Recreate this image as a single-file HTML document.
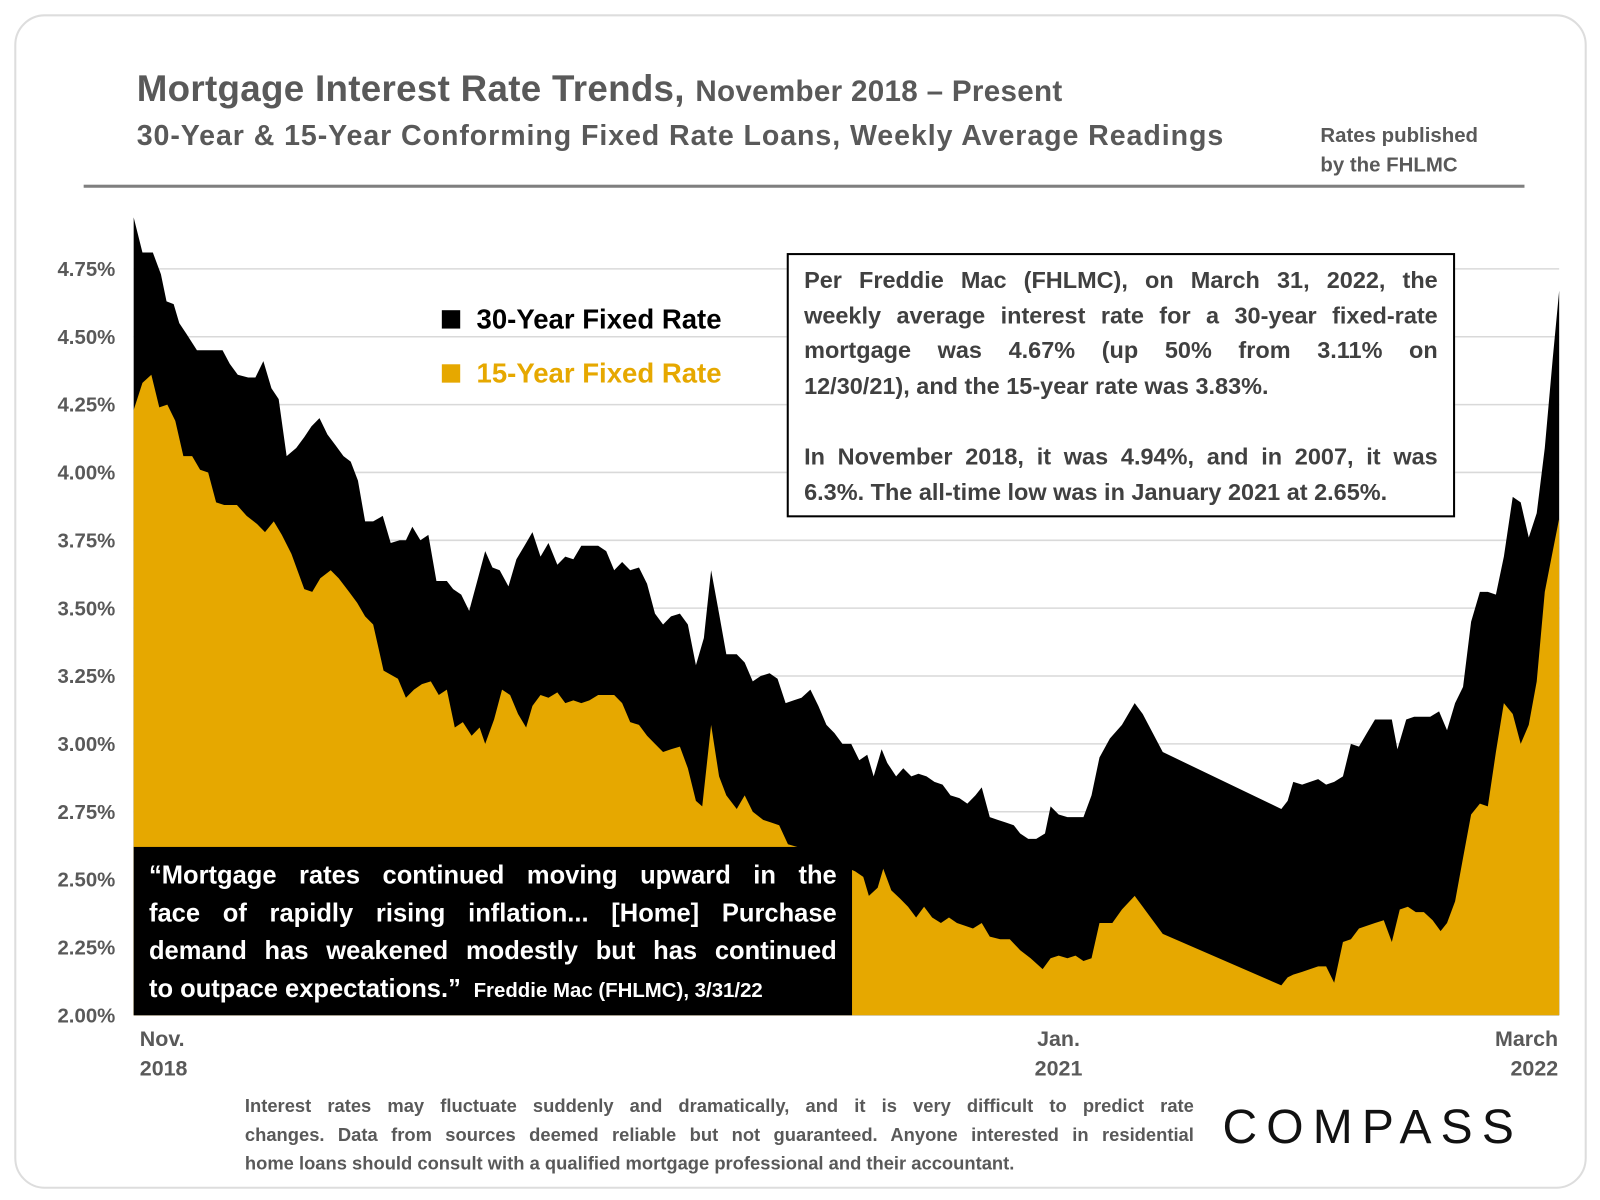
<!DOCTYPE html>
<html><head><meta charset="utf-8">
<style>
html,body{margin:0;padding:0;background:#fff;}
body{width:1600px;height:1200px;overflow:hidden;font-family:"Liberation Sans",sans-serif;}
#frame{position:absolute;left:0;top:0;width:1568px;height:1176px;transform:scale(1.0204);transform-origin:0 0;}
.abs{position:absolute;}
.j{display:block;text-align:justify;text-align-last:justify;white-space:nowrap;}
.l{display:block;text-align:left;white-space:nowrap;}
</style></head>
<body>
<div id="frame">
<div class="abs" style="left:14px;top:14px;width:1537px;height:1147px;border:2px solid #ddd;border-radius:30px;"></div>
<div class="abs" style="left:134px;top:66px;font-size:36px;font-weight:bold;color:#595959;white-space:nowrap;letter-spacing:0.3px;">Mortgage Interest Rate Trends, <span style="font-size:29px">November 2018 – Present</span></div>
<div class="abs" style="left:134px;top:117px;font-size:28px;font-weight:bold;color:#595959;white-space:nowrap;letter-spacing:0.9px;">30-Year &amp; 15-Year Conforming Fixed Rate Loans, Weekly Average Readings</div>
<div class="abs" style="left:1294px;top:119px;font-size:20px;font-weight:bold;color:#595959;line-height:29px;">Rates published<br>by the FHLMC</div>
<div class="abs" style="left:82px;top:181px;width:1412px;height:3px;background:#7f7f7f;"></div>

<svg class="abs" style="left:0;top:0" width="1568" height="1176">
<g id="grid"></g><g id="areas"></g><g id="yticks"></g>
</svg>

<div class="abs" style="left:433px;top:287px;font-size:27px;font-weight:bold;line-height:53px;">
<div><span style="display:inline-block;width:18px;height:18px;background:#000;margin-right:16px;"></span>30-Year Fixed Rate</div>
<div style="color:#E6A800"><span style="display:inline-block;width:18px;height:18px;background:#E6A800;margin-right:16px;"></span>15-Year Fixed Rate</div>
</div>

<div class="abs" style="left:771px;top:248px;width:621px;height:241px;border:2px solid #000;background:#fff;padding:7px 15px 7px 15px;font-size:23px;font-weight:bold;color:#404040;line-height:34.6px;">
<span class="j">Per Freddie Mac (FHLMC), on March 31, 2022, the</span>
<span class="j">weekly average interest rate for a 30-year fixed-rate</span>
<span class="j">mortgage was 4.67% (up 50% from 3.11% on</span>
<span class="l">12/30/21), and the 15-year rate was 3.83%.</span>
<span class="l">&nbsp;</span>
<span class="j">In November 2018, it was 4.94%, and in 2007, it was</span>
<span class="l">6.3%. The all-time low was in January 2021 at 2.65%.</span>
</div>

<div class="abs" style="left:131px;top:830px;width:674px;height:148px;background:#000;color:#fff;padding:10px 15px 7px 15px;font-size:25px;font-weight:bold;line-height:37px;">
<span class="j">“Mortgage rates continued moving upward in the</span>
<span class="j">face of rapidly rising inflation... [Home] Purchase</span>
<span class="j">demand has weakened modestly but has continued</span>
<span class="l">to outpace expectations.” <span style="font-size:20px">&nbsp;Freddie Mac (FHLMC), 3/31/22</span></span>
</div>

<div class="abs" style="left:137px;top:1004px;font-size:21px;font-weight:bold;color:#595959;line-height:29px;">Nov.<br>2018</div>
<div class="abs" style="left:1014px;top:1004px;font-size:21px;font-weight:bold;color:#595959;line-height:29px;text-align:center;">Jan.<br>2021</div>
<div class="abs" style="left:1440px;top:1004px;font-size:21px;font-weight:bold;color:#595959;line-height:29px;text-align:right;width:87px;">March<br>2022</div>

<div class="abs" style="left:240px;top:1070px;width:930px;font-size:18px;font-weight:bold;color:#595959;line-height:28px;">
<span class="j">Interest rates may fluctuate suddenly and dramatically, and it is very difficult to predict rate</span>
<span class="j">changes. Data from sources deemed reliable but not guaranteed. Anyone interested in residential</span>
<span class="l">home loans should consult with a qualified mortgage professional and their accountant.</span>
</div>
<div class="abs" style="left:1198px;top:1076px;font-size:47px;letter-spacing:9px;color:#111;">COMPASS</div>
</div>

<script>
const yTicks=[2.00,2.25,2.50,2.75,3.00,3.25,3.50,3.75,4.00,4.25,4.50,4.75];
const weeks30=[0,1.1,2.4,3.4,4.1,5,5.7,6.6,7.9,10.1,11.1,12,13,14.3,15.2,16.2,17.2,18.1,19.1,20.3,21.3,22.2,23.2,24.2,25.2,26.2,27.1,28,28.9,29.9,31.1,32.1,33.2,34,34.8,35.8,36.8,37.8,39.1,39.9,40.9,41.9,42.9,43.9,44.8,45.7,46.8,47.8,48.8,49.8,50.8,51.8,52.9,53.9,54.9,55.9,56.9,58,59,60,61,62,63.1,64.1,65.1,66.1,67.1,68.2,69.2,70.2,71.2,72.1,73.1,74,75.3,76.3,77.3,78.3,79.4,80.4,81.4,82.4,83.4,84.5,85.5,86.5,87.5,88.5,89.6,90.6,91.6,92.4,93.4,94.1,95.2,96.1,97.1,98,99,100,101,102,103.1,104.1,105.1,105.9,106.9,107.9,108.9,109.9,110.7,111.7,112.7,113.8,114.5,115.5,116.6,117.6,118.6,119.6,120.6,121.9,123.4,125,126,128.5,143.3,144.1,144.8,145.9,146.9,147.9,148.9,149.9,151,152,153,154,155,156.1,157.1,157.8,158.9,159.9,160.9,161.9,163,164,165,166,167,168.1,169.1,170.1,171.1,172.2,173.2,174.2,175.2,176.2,177.2,178];
const rates30=[4.94,4.81,4.81,4.73,4.63,4.62,4.55,4.51,4.45,4.45,4.45,4.40,4.36,4.35,4.35,4.41,4.31,4.27,4.06,4.09,4.13,4.17,4.20,4.14,4.10,4.06,4.04,3.97,3.82,3.82,3.84,3.74,3.75,3.75,3.80,3.75,3.77,3.60,3.60,3.57,3.55,3.49,3.60,3.71,3.65,3.64,3.58,3.68,3.73,3.78,3.69,3.74,3.66,3.69,3.68,3.73,3.73,3.73,3.71,3.64,3.67,3.64,3.65,3.59,3.48,3.44,3.47,3.48,3.44,3.29,3.39,3.64,3.48,3.33,3.33,3.30,3.23,3.25,3.26,3.24,3.15,3.16,3.17,3.20,3.14,3.07,3.04,3.00,3.00,2.94,2.96,2.88,2.98,2.93,2.88,2.91,2.88,2.89,2.88,2.86,2.85,2.81,2.80,2.78,2.81,2.84,2.73,2.72,2.71,2.70,2.67,2.65,2.65,2.67,2.77,2.74,2.73,2.73,2.73,2.81,2.95,3.02,3.07,3.15,3.11,2.97,2.76,2.79,2.86,2.85,2.86,2.87,2.85,2.86,2.88,3.00,2.99,3.04,3.09,3.09,3.09,2.98,3.09,3.10,3.10,3.10,3.12,3.05,3.15,3.21,3.45,3.56,3.56,3.55,3.69,3.91,3.89,3.76,3.85,4.09,4.42,4.67];
const weeks15=[0,1.1,2.2,3.2,4.2,5.2,6.2,7.3,8.3,9.3,10.3,11.3,12.9,14.1,15.4,16.4,17.5,18.5,19.7,21.3,22.3,23.3,24.6,25.6,26.9,27.9,28.9,29.9,31.2,33,34,35,36,37.1,38.1,39.1,40.1,41.1,42.2,43.2,43.9,45,46,47,48,49,49.8,50.8,51.8,52.9,53.9,54.9,55.9,56.9,58,60,61,62,63.1,64.1,65.1,66.1,67.1,68.2,69.2,70.2,71,72.1,73.1,74,75.3,76.3,77.3,78.6,79.6,80.6,81.7,84,90.1,91.1,91.8,92.9,93.6,94.6,95.7,96.7,97.7,98.7,99.7,100.8,101.8,102.8,103.8,104.8,105.9,106.9,108.2,109.4,110.7,112,113.5,114.5,115.5,116.6,117.6,118.6,119.6,120.6,122.2,123.4,125,126,128.5,143.3,144.1,144.8,145.9,146.9,147.9,148.9,149.9,151,152,153,154,155,156.1,157.1,158.1,159.1,160.1,161.1,162.2,163.2,164,165,166,167,168.1,169.1,170.1,171.1,172.2,173.2,174.2,175.2,176.2,177.2,178];
const rates15=[4.23,4.33,4.36,4.24,4.25,4.19,4.06,4.06,4.01,4.00,3.89,3.88,3.88,3.84,3.81,3.78,3.82,3.77,3.70,3.57,3.56,3.61,3.64,3.61,3.56,3.52,3.47,3.44,3.27,3.24,3.17,3.20,3.22,3.23,3.18,3.20,3.06,3.08,3.03,3.06,3.00,3.09,3.20,3.18,3.11,3.06,3.14,3.18,3.17,3.19,3.15,3.16,3.15,3.16,3.18,3.18,3.15,3.08,3.07,3.03,3.00,2.97,2.98,2.99,2.91,2.79,2.77,3.07,2.88,2.81,2.76,2.81,2.75,2.72,2.71,2.70,2.63,2.61,2.53,2.51,2.44,2.47,2.54,2.46,2.43,2.40,2.36,2.40,2.36,2.34,2.36,2.34,2.33,2.32,2.34,2.29,2.28,2.28,2.24,2.21,2.17,2.21,2.22,2.21,2.22,2.20,2.21,2.34,2.34,2.39,2.44,2.40,2.30,2.11,2.14,2.15,2.16,2.17,2.18,2.18,2.12,2.27,2.28,2.32,2.33,2.34,2.35,2.27,2.39,2.40,2.38,2.38,2.35,2.31,2.34,2.42,2.58,2.74,2.78,2.77,2.97,3.15,3.11,3.00,3.07,3.23,3.56,3.71,3.83];

const NS='http://www.w3.org/2000/svg';
const X0=131,X1=1528,W0=0,W1=178,Y0=995,V0=2.0,PX=266;
function xs(w){return X0+(w-W0)/(W1-W0)*(X1-X0);}
function ys(v){return Y0-(v-V0)*PX;}
const grid=document.getElementById('grid'),areas=document.getElementById('areas'),yt=document.getElementById('yticks');
yTicks.forEach(t=>{
  if(t>2){const l=document.createElementNS(NS,'line');
  l.setAttribute('x1',X0);l.setAttribute('x2',X1);l.setAttribute('y1',ys(t));l.setAttribute('y2',ys(t));
  l.setAttribute('stroke','#d9d9d9');l.setAttribute('stroke-width','1.5');
  
  
  grid.appendChild(l);}
  const tx=document.createElementNS(NS,'text');
  tx.setAttribute('x',113);tx.setAttribute('y',ys(t)+7);tx.setAttribute('text-anchor','end');
  tx.setAttribute('font-size','20');tx.setAttribute('font-weight','bold');tx.setAttribute('fill','#595959');
  tx.setAttribute('font-family','Liberation Sans, sans-serif');
  tx.textContent=t.toFixed(2)+'%';
  
  
  yt.appendChild(tx);
});
function area(wk,vals,fill,name){
  let d='M'+xs(wk[0])+','+ys(V0);
  wk.forEach((w,i)=>{d+=' L'+xs(w).toFixed(1)+','+ys(vals[i]).toFixed(1);});
  d+=' L'+xs(wk[wk.length-1])+','+ys(V0)+' Z';
  const p=document.createElementNS(NS,'path');
  p.setAttribute('d',d);p.setAttribute('fill',fill);
  
  
  areas.appendChild(p);
}
area(weeks30,rates30,'#000','area-30-year');
area(weeks15,rates15,'#E6A800','area-15-year');
</script>
</body></html>
